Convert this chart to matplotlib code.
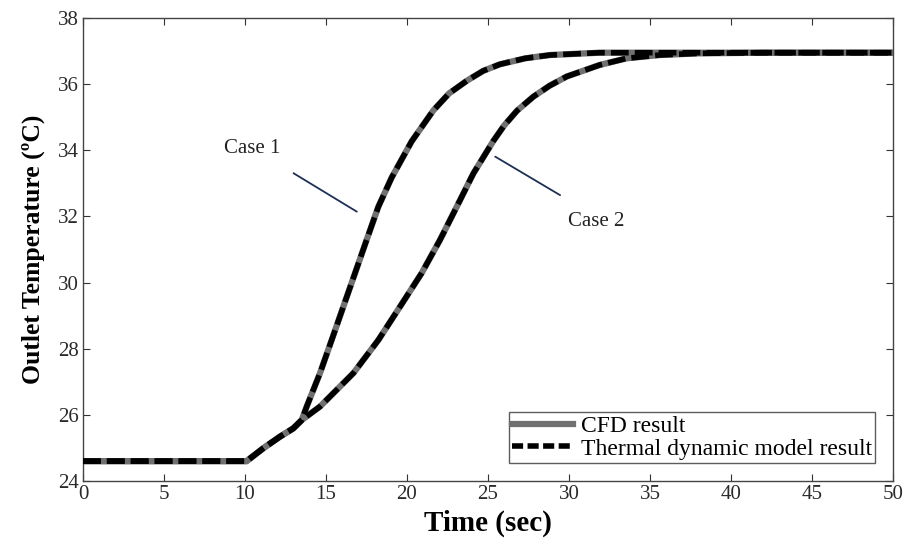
import matplotlib
matplotlib.use("Agg")
import matplotlib.pyplot as plt
from matplotlib.lines import Line2D

# Case 1
t_case1 = [0, 10.1, 11.13, 12.16, 12.98, 13.5, 13.81, 14.63, 15.35, 16.07, 16.79, 17.51,
           18.23, 19.05, 20.29, 21.62, 22.6, 23.69, 24.7, 25.74, 27.3, 28.83, 31.9, 35, 40, 50]
T_case1 = [24.6, 24.6, 24.99, 25.34, 25.59, 25.84, 26.25, 27.26, 28.26, 29.27, 30.28, 31.29,
           32.29, 33.17, 34.27, 35.2, 35.72, 36.1, 36.4, 36.6, 36.78, 36.88, 36.95, 36.95, 36.95, 36.95]

# Case 2
t_case2 = [0, 10.1, 11.13, 12.16, 12.98, 13.5, 14.63, 16.69, 18.23, 19.57, 20.9, 22.04,
           23.07, 24.1, 25.33, 26.0, 26.8, 27.8, 28.8, 29.86, 31.9, 33.56, 35.6, 38, 42, 50]
T_case2 = [24.6, 24.6, 24.99, 25.34, 25.59, 25.84, 26.25, 27.26, 28.26, 29.27, 30.28, 31.29,
           32.29, 33.3, 34.28, 34.75, 35.2, 35.62, 35.95, 36.23, 36.58, 36.78, 36.88, 36.93, 36.95, 36.95]

x_ticks = [0, 5, 10, 15, 20, 25, 30, 35, 40, 45, 50]
y_ticks = [24, 26, 28, 30, 32, 34, 36, 38]
legend_labels = ["CFD result", "Thermal dynamic model result"]

serif = ["Liberation Serif", "DejaVu Serif"]
plt.rcParams['font.family'] = serif

fig = plt.figure(figsize=(9.06, 5.40), dpi=100)
ax = fig.add_axes([0.0916, 0.1093, 0.894, 0.8574])

gray = "#707070"
for t, T in [(t_case1, T_case1), (t_case2, T_case2)]:
    ax.plot(t, T, color=gray, lw=4.5, solid_capstyle='butt', solid_joinstyle='round', zorder=2)
    ax.plot(t, T, color="black", lw=4.0, ls=(0, (3.2, 1.1)), dash_joinstyle='round', zorder=3)

ax.set_xlim(0, 50)
ax.set_ylim(24, 38)
ax.set_xticks(x_ticks)
ax.set_yticks(y_ticks)
ax.tick_params(direction='in', top=True, right=True, length=5, width=0.8,
               labelsize=15, colors='#333333', labelcolor='#2a2a2a', pad=3)
for s in ax.spines.values():
    s.set_color('#444444')
    s.set_linewidth(1.0)

ax.set_xlabel("Time (sec)", fontsize=21, fontweight='bold', labelpad=4)
ax.set_ylabel("Outlet Temperature (ºC)", fontsize=18.5, fontweight='bold', labelpad=9)

# annotations
navy = "#1c2f55"
ax.text(10.45, 34.05, "Case 1", fontsize=15, ha='center', va='center', color='#222222')
ax.annotate("", xy=(17.05, 32.1), xytext=(12.85, 33.35),
            arrowprops=dict(arrowstyle='-', color=navy, lw=1.3))
ax.text(31.7, 31.85, "Case 2", fontsize=15, ha='center', va='center', color='#222222')
ax.annotate("", xy=(25.3, 33.85), xytext=(29.6, 32.6),
            arrowprops=dict(arrowstyle='-', color=navy, lw=1.3))

handles = [Line2D([0], [0], color=gray, lw=4.5),
           Line2D([0], [0], color='black', lw=4.0, ls=(0, (2, 0.8)))]
leg = ax.legend(handles, legend_labels, loc='lower right', fontsize=17,
                frameon=True, fancybox=False, edgecolor='#333333',
                handlelength=2.6, handletextpad=0.3, borderpad=0.15,
                labelspacing=0.05, borderaxespad=0.75)
leg.get_frame().set_linewidth(1.0)

fig.savefig("out.png", dpi=100)
